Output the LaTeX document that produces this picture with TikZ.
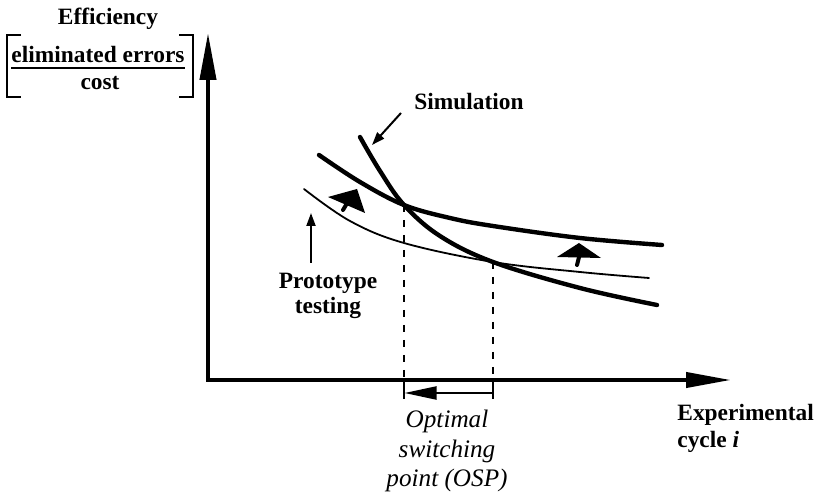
\documentclass[tikz,border=0pt]{standalone}
\usepackage{fontspec}
\setmainfont{Liberation Serif}
\usetikzlibrary{arrows.meta}
\begin{document}
\begin{tikzpicture}[x=0.5pt,y=-0.5pt,
  lbl/.style={font=\fontsize{11.7}{14}\selectfont\bfseries, inner sep=0pt, anchor=base},
  osp/.style={font=\fontsize{12.6}{14}\selectfont\itshape, inner sep=0pt, anchor=base},
  axisline/.style={line width=2pt, line join=miter},
  thickc/.style={line width=2.2pt, line cap=round},
  thinc/.style={line width=0.9pt, line cap=round},
  guide/.style={line width=1pt, dash pattern=on 3.5pt off 4pt},
  pointer/.style={line width=1pt, -{Triangle[length=6.5pt,width=4.5pt]}},
  bracketline/.style={line width=1.3pt, line join=miter},
  blockstem/.style={line width=2pt, line cap=round},
]
\useasboundingbox (0,0) rectangle (826,492);

% axes
\coordinate (O) at (208,380);
\coordinate (ytip) at (208,33);
\coordinate (xtip) at (731,380);
\draw[axisline, {Triangle[length=23.5pt,width=8pt]}-{Triangle[length=22.5pt,width=7.5pt]}] (ytip) -- (O) -- (xtip);

% y label
\node[lbl] (eff) at (108,25) {Efficiency};
\node[lbl] (num) at (98,63) {eliminated errors};
\node[lbl] (den) at (100,90) {cost};
\draw[line width=1pt] ([yshift=-2.4pt]num.base west) -- ([yshift=-2.4pt]num.base east);
\coordinate (lb1) at (21,35); \coordinate (lb2) at (7,35);
\coordinate (lb3) at (7,97);  \coordinate (lb4) at (21,97);
\coordinate (rb1) at (179,35); \coordinate (rb2) at (193,35);
\coordinate (rb3) at (193,97); \coordinate (rb4) at (179,97);
\draw[bracketline] (lb1) -- (lb2) -- (lb3) -- (lb4);
\draw[bracketline] (rb1) -- (rb2) -- (rb3) -- (rb4);

% curves
\draw[thickc] plot[smooth, tension=0.6] coordinates {(319,155) (360,182) (404,205) (450,218) (493,226) (580,238) (662,245)};
\draw[thickc] plot[smooth, tension=0.6] coordinates {(360,137) (380,171) (404,205) (440,236) (493,262) (580,288) (657,305)};
\draw[thinc] plot[smooth, tension=0.6] coordinates {(304,189) (350,221) (404,243) (493,262) (580,272) (649,278)};

% block arrows
\fill (328,197) -- (357,189) -- (365,213) -- cycle;
\draw[blockstem] (346,205) -- (343,210);
\fill (557,257) -- (579,243) -- (601,258) -- cycle;
\draw[blockstem] (579,257) -- (577,265);

% labels with pointers
\node[lbl, anchor=base west] (sim) at (414,110) {Simulation};
\coordinate (simtail) at (401,113);
\coordinate (simhead) at (372,145);
\draw[pointer] (simtail) -- (simhead);

\node[lbl] (proto) at (328,289) {Prototype};
\node[lbl] (testing) at (328,314) {testing};
\coordinate (prtail) at (311,263);
\coordinate (prhead) at (311,213);
\draw[pointer] (prtail) -- (prhead);

% dashed guides
\coordinate (i1) at (404,205);
\coordinate (i2) at (493,262);
\coordinate (f1) at (404,380);
\coordinate (f2) at (493,380);
\draw[guide] (i1) -- (f1);
\draw[guide] (i2) -- (f2);

% OSP interval
\coordinate (t1a) at (404,382); \coordinate (t1b) at (404,399);
\coordinate (t2a) at (493,382); \coordinate (t2b) at (493,399);
\draw[line width=1pt] (t1a) -- (t1b);
\draw[line width=1pt] (t2a) -- (t2b);
\coordinate (oa) at (493,393); \coordinate (ob) at (404.5,393);
\draw[line width=1.1pt, -{Triangle[length=16pt,width=6.5pt]}] (oa) -- (ob);

\node[osp] (o1) at (447,427) {Optimal};
\node[osp] (o2) at (447,457) {switching};
\node[osp] (o3) at (447,487) {point (OSP)};

% x label
\node[lbl, anchor=base west] (xl1) at (677,421) {Experimental};
\node[lbl, anchor=base west] (xl2) at (677,447) {cycle \textit{i}};
\end{tikzpicture}
\end{document}
